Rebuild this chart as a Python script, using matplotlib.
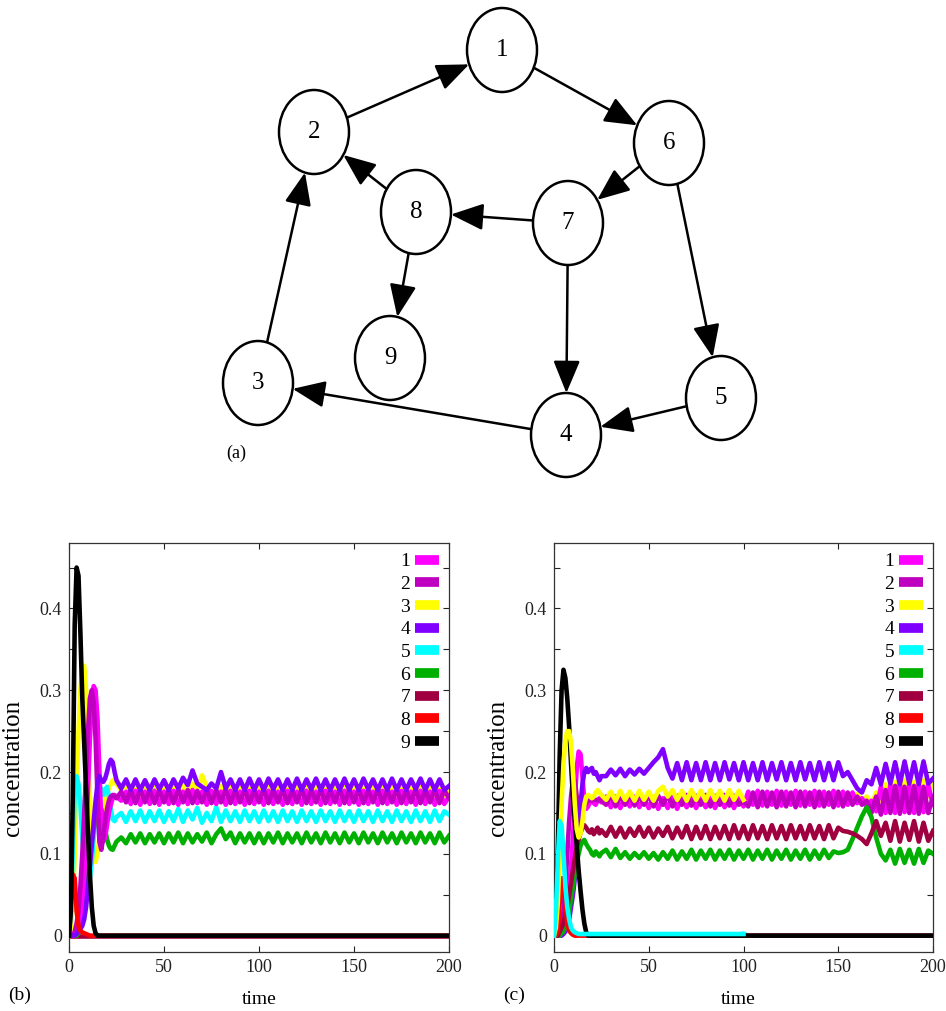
import numpy as np
import matplotlib
matplotlib.use("Agg")
import matplotlib.pyplot as plt
from matplotlib.patches import Ellipse
from matplotlib.lines import Line2D

plt.rcParams['font.family'] = ['Liberation Serif', 'DejaVu Serif']

# ---- network (panel a), node centres in pixel units of the top panel ----
node_names = ['1', '2', '3', '4', '5', '6', '7', '8', '9']
node_x = [502, 314, 258, 566, 721, 669, 568, 416, 390]
node_y = [50, 132, 383, 435, 398, 143, 223, 212, 358]
edges = [('2', '1'), ('1', '6'), ('6', '7'), ('6', '5'), ('7', '8'),
         ('7', '4'), ('8', '2'), ('8', '9'), ('3', '2'), ('4', '3'), ('5', '4')]

# ---- time series (values in thousandths) ----
time = np.concatenate([np.arange(0, 26), np.arange(27.5, 200.1, 2.5)])
series_names = ['1', '2', '3', '4', '5', '6', '7', '8', '9']
colors = ['#ff00ff', '#c000c0', '#ffff00', '#8000ff', '#00ffff',
          '#00b000', '#a00040', '#ff0000', '#000000']
ytick_vals = [0, 0.1, 0.2, 0.3, 0.4]
ytick_labels = ['0', '0.1', '0.2', '0.3', '0.4']
xtick_vals = [0, 50, 100, 150, 200]

# panel (b)
b1 = [0, 0, 0, 1, 3, 8, 20, 40, 70, 120, 180, 240, 285, 305, 300, 265, 200, 140, 115, 120, 135, 150, 160, 168, 172, 170] + [
    165, 176, 161, 177, 160, 176, 161, 177, 160, 176,
    161, 177, 160, 176, 161, 178, 162, 176, 160, 177,
    161, 176, 160, 177, 161, 176, 160, 177, 161, 176,
    160, 177, 161, 176, 160, 177, 161, 176, 160, 177,
    161, 176, 160, 177, 161, 176, 160, 177, 161, 176,
    160, 177, 161, 176, 160, 177, 161, 176, 160, 177,
    161, 176, 160, 177, 161, 176, 160, 177, 161, 170]
b2 = [0, 0, 0, 5, 15, 30, 60, 100, 150, 200, 250, 290, 300, 285, 240, 170, 115, 105, 120, 140, 155, 165, 170, 172, 170, 168] + [
    176, 163, 178, 162, 179, 163, 178, 162, 178, 163,
    178, 162, 179, 163, 178, 162, 177, 163, 178, 162,
    178, 163, 179, 162, 178, 163, 179, 162, 178, 163,
    179, 162, 178, 163, 179, 162, 178, 163, 179, 162,
    178, 163, 179, 162, 178, 163, 179, 162, 178, 163,
    179, 162, 178, 163, 179, 162, 178, 163, 179, 162,
    178, 163, 179, 162, 178, 163, 179, 162, 178, 168]
b3 = [0, 10, 40, 100, 180, 250, 300, 325, 330, 300, 240, 170, 120, 95, 90, 100, 120, 140, 155, 165, 175, 180, 185, 190, 190, 185] + [
    178, 186, 172, 184, 171, 184, 171, 184, 172, 183,
    171, 183, 172, 184, 171, 186, 175, 196, 182, 176,
    171, 183, 172, 183, 171, 183, 172, 183, 171, 183,
    172, 183, 171, 183, 172, 183, 171, 183, 172, 183,
    171, 183, 172, 183, 171, 183, 172, 183, 171, 183,
    172, 183, 171, 183, 172, 183, 171, 183, 172, 183,
    171, 183, 172, 183, 171, 183, 172, 183, 171, 176]
b4 = [0, 0, 0, 0, 2, 5, 8, 12, 20, 35, 60, 85, 110, 140, 165, 185, 195, 190, 188, 192, 200, 210, 215, 212, 200, 190] + [
    180, 191, 178, 191, 178, 190, 178, 191, 179, 190,
    178, 191, 180, 193, 184, 202, 186, 182, 178, 186,
    180, 200, 180, 191, 178, 191, 178, 192, 178, 191,
    178, 192, 179, 191, 178, 191, 178, 192, 178, 191,
    179, 192, 178, 191, 178, 191, 178, 192, 178, 191,
    178, 192, 179, 191, 178, 191, 178, 192, 178, 191,
    178, 191, 179, 192, 178, 191, 178, 191, 178, 183]
b5 = [0, 30, 100, 170, 195, 185, 160, 120, 90, 70, 65, 70, 90, 120, 150, 170, 178, 180, 172, 178, 182, 170, 155, 142, 140, 145] + [
    150, 139, 152, 140, 153, 139, 152, 140, 153, 139,
    152, 140, 155, 139, 153, 142, 156, 138, 150, 140,
    157, 139, 153, 140, 152, 139, 153, 140, 152, 139,
    153, 140, 152, 139, 153, 140, 152, 139, 153, 140,
    152, 139, 153, 140, 152, 139, 153, 140, 152, 139,
    153, 140, 152, 139, 153, 140, 152, 139, 153, 140,
    152, 139, 153, 140, 152, 139, 153, 140, 152, 148]
b6 = [0, 0, 0, 0, 0, 3, 10, 25, 45, 65, 85, 100, 115, 130, 140, 150, 157, 155, 145, 130, 118, 110, 106, 105, 110, 115] + [
    120, 113, 124, 114, 125, 113, 124, 114, 125, 113,
    125, 114, 126, 113, 125, 114, 124, 115, 126, 113,
    124, 131, 118, 126, 113, 125, 114, 125, 113, 125,
    113, 125, 114, 126, 113, 125, 114, 125, 113, 126,
    114, 125, 113, 126, 114, 125, 113, 126, 114, 125,
    113, 126, 114, 125, 113, 126, 114, 125, 113, 126,
    114, 125, 113, 126, 114, 125, 113, 126, 114, 122]
b7 = [0] * 26 + [0] * 70
b8 = [0, 40, 75, 70, 30, 12, 6, 4, 3, 2, 1] + [0] * 15 + [0] * 70
b9 = [0, 30, 170, 380, 450, 440, 370, 290, 235, 180, 125, 75, 35, 12, 3] + [0] * 11 + [0] * 70

# panel (c)
c1 = [0, 0, 0, 2, 5, 10, 20, 40, 60, 85, 120, 165, 205, 225, 222, 195, 165, 155, 158, 163, 165, 162, 160, 165, 168, 163] + [
    170, 157, 170, 156, 169, 158, 170, 157, 168, 156,
    169, 155, 168, 156, 170, 155, 169, 157, 170, 156,
    170, 157, 169, 156, 170, 157, 169, 156, 170, 158,
    176, 160, 177, 159, 176, 160, 177, 159, 176, 160,
    177, 159, 176, 160, 177, 159, 176, 160, 177, 159,
    176, 160, 175, 162, 168, 158, 165, 152, 182, 150,
    184, 150, 185, 151, 184, 150, 185, 151, 184, 160]
c2 = [0, 0, 0, 10, 20, 30, 60, 100, 140, 170, 190, 190, 170, 150, 145, 150, 158, 163, 165, 166, 165, 168, 166, 165, 167, 165] + [
    160, 172, 158, 171, 160, 172, 159, 171, 160, 172,
    158, 171, 160, 172, 158, 171, 160, 172, 159, 171,
    160, 172, 158, 171, 160, 172, 159, 171, 160, 165,
    158, 175, 157, 176, 158, 175, 157, 176, 158, 175,
    157, 176, 158, 175, 157, 176, 158, 175, 157, 176,
    158, 175, 160, 170, 160, 165, 150, 170, 148, 178,
    150, 183, 149, 182, 150, 183, 149, 182, 150, 170]
c3 = [0, 10, 40, 100, 160, 210, 240, 250, 250, 235, 200, 160, 130, 120, 125, 140, 160, 170, 172, 170, 168, 170, 175, 178, 175, 172] + [
    166, 176, 165, 177, 166, 176, 165, 177, 166, 176,
    165, 177, 182, 170, 178, 166, 177, 165, 178, 166,
    177, 165, 178, 166, 177, 165, 178, 166, 177, 166,
    165, 172, 164, 173, 165, 172, 164, 173, 165, 172,
    164, 173, 165, 172, 164, 173, 165, 172, 164, 173,
    165, 172, 164, 173, 165, 170, 160, 175, 165, 185,
    170, 188, 168, 190, 170, 188, 168, 190, 170, 192]
c4 = [0, 0, 0, 0, 0, 2, 5, 10, 20, 35, 50, 70, 100, 130, 160, 185, 200, 205, 200, 203, 205, 198, 200, 195, 190, 195] + [
    195, 203, 196, 204, 195, 203, 197, 204, 198, 205,
    212, 218, 228, 205, 192, 211, 190, 212, 190, 211,
    190, 212, 190, 211, 190, 212, 191, 211, 190, 212,
    190, 211, 190, 212, 190, 211, 191, 212, 190, 211,
    190, 212, 191, 211, 190, 212, 190, 211, 190, 212,
    195, 200, 190, 180, 175, 190, 185, 205, 185, 210,
    186, 212, 185, 213, 186, 212, 185, 213, 186, 192]
c5 = [0, 30, 90, 140, 135, 100, 60, 35, 20, 10, 6, 4, 3] + [2] * 13 + [2] * 30 + [0] * 40
c6 = [0, 0, 0, 0, 3, 5, 10, 20, 30, 45, 60, 75, 90, 100, 110, 115, 117, 112, 108, 105, 100, 98, 103, 100, 97, 101] + [
    105, 96, 106, 95, 102, 94, 101, 95, 102, 94,
    101, 93, 102, 94, 104, 93, 103, 94, 105, 93,
    104, 94, 105, 93, 104, 94, 105, 93, 104, 94,
    105, 93, 104, 94, 105, 93, 104, 94, 105, 93,
    104, 94, 105, 93, 104, 94, 105, 95, 103, 101,
    102, 105, 118, 132, 146, 157, 145, 120, 100, 92,
    105, 88, 106, 89, 105, 88, 106, 89, 104, 100]
c7 = [0, 0, 0, 5, 10, 15, 25, 35, 50, 65, 80, 95, 108, 118, 126, 132, 135, 132, 128, 126, 130, 124, 128, 132, 125, 129] + [
    122, 133, 121, 132, 120, 131, 122, 133, 121, 132,
    120, 131, 122, 133, 119, 132, 120, 134, 118, 133,
    119, 134, 118, 133, 119, 134, 118, 135, 119, 134,
    118, 135, 119, 134, 118, 135, 119, 134, 118, 135,
    119, 134, 118, 135, 119, 134, 118, 135, 119, 132,
    128, 127, 125, 122, 118, 112, 125, 140, 122, 138,
    116, 140, 115, 138, 117, 140, 115, 138, 116, 128]
c8 = [0, 0, 5, 40, 70, 70, 40, 15, 6, 3, 1] + [0] * 15 + [0] * 70
c9 = [0, 30, 100, 220, 300, 325, 315, 290, 255, 210, 170, 140, 110, 80, 55, 32, 15, 4] + [0] * 8 + [0] * 70

panel_b = [b1, b2, b3, b4, b5, b6, b7, b8, b9]
panel_c = [c1, c2, c3, c4, c5, c6, c7, c8, c9]

fig = plt.figure(figsize=(9.46, 10.11), dpi=100)

# ---------------- panel (a): the network ----------------
ax0 = fig.add_axes([0, 1 - 500 / 1011, 1, 500 / 1011])
ax0.set_xlim(0, 946)
ax0.set_ylim(500, 0)
ax0.axis('off')

ra, rb = 35, 42
pos = {n: (x, y) for n, x, y in zip(node_names, node_x, node_y)}
for n, (x, y) in pos.items():
    ax0.add_patch(Ellipse((x, y), 2 * ra, 2 * rb, facecolor='white',
                          edgecolor='black', lw=1.8, zorder=3))
    ax0.text(x, y, n, ha='center', va='center', fontsize=18, zorder=4)

for a, b in edges:
    (x1, y1), (x2, y2) = pos[a], pos[b]
    d = np.hypot(x2 - x1, y2 - y1)
    ux, uy = (x2 - x1) / d, (y2 - y1) / d
    s = 1 / np.sqrt((ux / ra) ** 2 + (uy / rb) ** 2)
    ax0.annotate('', xy=(x2 - s * ux, y2 - s * uy), xytext=(x1 + s * ux, y1 + s * uy),
                 arrowprops=dict(arrowstyle='-|>,head_length=0.8,head_width=0.33',
                                 mutation_scale=25, lw=1.8, color='black',
                                 shrinkA=0, shrinkB=0), zorder=2)
ax0.text(236, 453, '(a)', ha='center', va='center', fontsize=13)

# ---------------- panels (b) and (c) ----------------
order_b = [6, 2, 4, 5, 0, 1, 3, 7, 8]


def style_axes(ax, label_x, time_x):
    ax.set_xlim(0, 200)
    ax.set_ylim(-0.02, 0.48)
    ax.set_xticks(xtick_vals)
    ax.set_yticks(ytick_vals)
    ax.set_yticklabels(ytick_labels)
    ax.set_yticks(np.arange(0.05, 0.46, 0.1), minor=True)
    ax.tick_params(which='both', direction='in', top=True, right=True,
                   length=4, width=0.8, labelsize=13, colors='#222222', pad=5)
    for sp in ax.spines.values():
        sp.set_linewidth(0.9)
        sp.set_color('#333333')
    ax.set_ylabel('concentration', fontsize=18)
    ax.yaxis.set_label_coords(label_x, 0.45)
    ax.set_xlabel('time', fontsize=14)
    ax.xaxis.set_label_coords(time_x, -0.095)
    handles = [Line2D([], [], color=c, lw=7, solid_capstyle='butt') for c in colors]
    ax.legend(handles, series_names, loc='upper right', frameon=False,
              markerfirst=False, fontsize=14, handlelength=1.25,
              handletextpad=0.25, labelspacing=0.26, borderaxespad=0.3,
              borderpad=0.2)


axb = fig.add_axes([69 / 946, 1 - 952 / 1011, 380 / 946, 409 / 1011])
for z, i in enumerate(order_b):
    axb.plot(time, np.array(panel_b[i]) / 1000, color=colors[i], lw=3.3,
             solid_joinstyle='round', zorder=z + 2)
style_axes(axb, -0.118, 0.5)

axc = fig.add_axes([554 / 946, 1 - 952 / 1011, 379 / 946, 409 / 1011])
split = 55  # index of t = 100
for i in range(9):
    y = np.array(panel_c[i]) / 1000
    if i in (2, 4):
        axc.plot(time[:split + 1], y[:split + 1], color=colors[i], lw=3.3,
                 solid_joinstyle='round', zorder=20 + i)
        axc.plot(time[split:], y[split:], color=colors[i], lw=3.3,
                 solid_joinstyle='round', zorder=1)
    else:
        axc.plot(time, y, color=colors[i], lw=3.3, solid_joinstyle='round',
                 zorder=i + 2)
style_axes(axc, -0.118, 0.485)

fig.text(8 / 946, 1 - 995 / 1011, '(b)', fontsize=14, va='center')
fig.text(503 / 946, 1 - 995 / 1011, '(c)', fontsize=14, va='center')

fig.savefig('out.png', dpi=100)
